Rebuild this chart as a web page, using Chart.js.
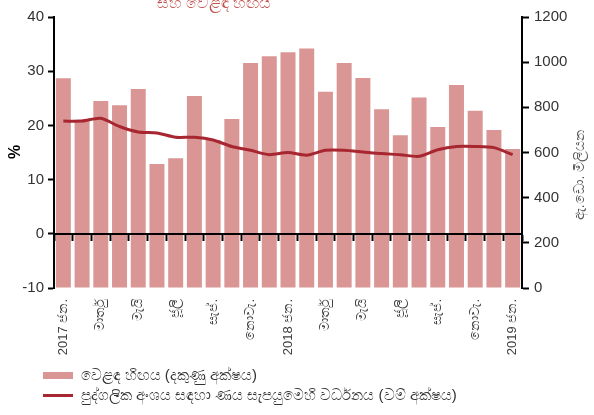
<!DOCTYPE html>
<html>
<head>
<meta charset="utf-8">
<script src="https://cdn.jsdelivr.net/npm/chart.js@4"></script>
<style>
  body { margin: 0; background: #fff; }
</style>
</head>
<body>
<canvas id="tradeChart" width="594" height="415"></canvas>
<script>
// months, Jan 2017 - Jan 2019
var months = [
    '2017 ජන.', 'පෙබ.', 'මාර්තු', 'අප්‍රේ.', 'මැයි', 'ජූනි', 'ජූලි', 'අගෝ.', 'සැප්.', 'ඔක්.', 'නොවැ.', 'දෙසැ.',
    '2018 ජන.', 'පෙබ.', 'මාර්තු', 'අප්‍රේ.', 'මැයි', 'ජූනි', 'ජූලි', 'අගෝ.', 'සැප්.', 'ඔක්.', 'නොවැ.', 'දෙසැ.',
    '2019 ජන.'
];
// trade deficit, US$ mn (right axis)
var tradeDeficit = [929, 745, 828, 809, 881, 549, 574, 850, 655, 748, 996, 1026, 1044,
    1061, 869, 996, 930, 791, 676, 844, 713, 899, 785, 700, 616];
// private sector credit growth, % (left axis)
var creditGrowth = [20.8, 20.8, 21.3, 19.8, 18.8, 18.6, 17.8, 17.8, 17.3, 16.1, 15.4, 14.6, 15.0,
    14.5, 15.4, 15.4, 15.1, 14.8, 14.6, 14.3, 15.5, 16.1, 16.1, 15.9, 14.6];

var leftTicks = [-10, 0, 10, 20, 30, 40];
var rightTicks = [0, 200, 400, 600, 800, 1000, 1200];

var barLabel = 'වෙළඳ හිඟය (දකුණු අක්ෂය)';
var lineLabel = 'පුද්ගලික අංශය සඳහා ණය සැපයුමෙහි වර්ධනය (වම් අක්ෂය)';
var topTitle = 'සහ වෙළඳ හිඟය';
var leftTitle = '%';
var rightTitle = 'ඇ.ඩො. මිලියන';

var fontFam = "'Liberation Sans', 'Noto Sans', sans-serif";

// axis titles, clipped top title, legend nudged right
var extraText = {
    id: 'extraText',
    afterLayout: function(chart) {
        chart.legend.left += 38;
        chart.legend.right += 38;
    },
    afterDraw: function(chart) {
        var c = chart.ctx;
        c.save();
        c.textAlign = 'center';
        c.textBaseline = 'middle';

        c.fillStyle = '#c0504d';
        c.font = '16px ' + fontFam;
        c.fillText(topTitle, 214, 4);

        c.fillStyle = '#000';
        c.font = 'bold 16px ' + fontFam;
        c.translate(16, 152);
        c.rotate(-Math.PI / 2);
        c.fillText(leftTitle, 0, 0);
        c.restore();

        c.save();
        c.textAlign = 'center';
        c.textBaseline = 'middle';
        c.fillStyle = '#555';
        c.font = '14px ' + fontFam;
        c.translate(580, 175);
        c.rotate(-Math.PI / 2);
        c.fillText(rightTitle, 0, 0);
        c.restore();
    }
};

var ctx = document.getElementById('tradeChart');

var myChart = new Chart(ctx, {
    type: 'bar',
    data: {
        labels: months,
        datasets: [{
            type: 'bar',
            label: barLabel,
            data: tradeDeficit,
            yAxisID: 'y1',
            xAxisID: 'x',
            backgroundColor: 'rgb(217, 150, 148)',
            borderWidth: 0,
            barPercentage: 0.8,
            categoryPercentage: 1.0,
            pointStyle: 'rect',
            order: 1
        }, {
            type: 'line',
            label: lineLabel,
            data: creditGrowth,
            yAxisID: 'y',
            xAxisID: 'x',
            borderColor: 'rgb(167, 38, 48)',
            backgroundColor: 'rgb(167, 38, 48)',
            borderWidth: 3,
            pointRadius: 0,
            tension: 0.25,
            pointStyle: 'line',
            order: 0
        }]
    },
    options: {
        responsive: false,
        animation: false,
        layout: {
            padding: { left: 0, right: 0, top: 17, bottom: 2 }
        },
        plugins: {
            tooltip: { enabled: false },
            legend: {
                position: 'bottom',
                align: 'start',
                labels: {
                    usePointStyle: true,
                    pointStyleWidth: 30,
                    boxHeight: 7,
                    padding: 5,
                    color: '#333',
                    font: { size: 15, family: fontFam },
                    sort: function(a, b) { return a.datasetIndex - b.datasetIndex; }
                }
            }
        },
        scales: {
            x: {
                type: 'category',
                position: 'bottom',
                offset: true,
                border: { display: false },
                grid: { display: false, offset: true },
                ticks: {
                    autoSkip: false,
                    maxRotation: 90,
                    minRotation: 90,
                    padding: 3,
                    color: '#404040',
                    font: { size: 13, family: fontFam },
                    callback: function(v, i) {
                        return i % 2 === 0 ? this.getLabelForValue(v) : '';
                    }
                },
                afterFit: function(scale) { scale.height = 75; }
            },
            x0: {
                type: 'category',
                position: { y: 0 },
                offset: true,
                border: { display: true, color: '#000', width: 2, z: 1 },
                grid: {
                    display: true,
                    offset: true,
                    z: 1,
                    drawOnChartArea: false,
                    drawTicks: true,
                    tickLength: 6,
                    tickWidth: 2,
                    color: '#000'
                },
                ticks: { display: false }
            },
            y: {
                position: 'left',
                min: leftTicks[0],
                max: leftTicks[leftTicks.length - 1],
                afterBuildTicks: function(scale) {
                    scale.ticks = leftTicks.map(function(v) { return { value: v }; });
                },
                border: { display: true, color: '#000', width: 2 },
                grid: {
                    drawOnChartArea: false,
                    tickLength: 6,
                    tickWidth: 2,
                    color: '#000'
                },
                ticks: {
                    padding: 4,
                    color: '#333',
                    font: { size: 15, family: fontFam },
                    callback: function(v) { return String(v); }
                },
                afterFit: function(scale) { scale.width = 54; }
            },
            y1: {
                position: 'right',
                min: rightTicks[0],
                max: rightTicks[rightTicks.length - 1],
                afterBuildTicks: function(scale) {
                    scale.ticks = rightTicks.map(function(v) { return { value: v }; });
                },
                border: { display: true, color: '#000', width: 2 },
                grid: {
                    drawOnChartArea: false,
                    tickLength: 7,
                    tickWidth: 2,
                    color: '#000'
                },
                ticks: {
                    padding: 5,
                    color: '#333',
                    font: { size: 15, family: fontFam },
                    callback: function(v) { return String(v); }
                },
                afterFit: function(scale) { scale.width = 72; }
            }
        }
    },
    plugins: [extraText]
});
</script>
</body>
</html>
